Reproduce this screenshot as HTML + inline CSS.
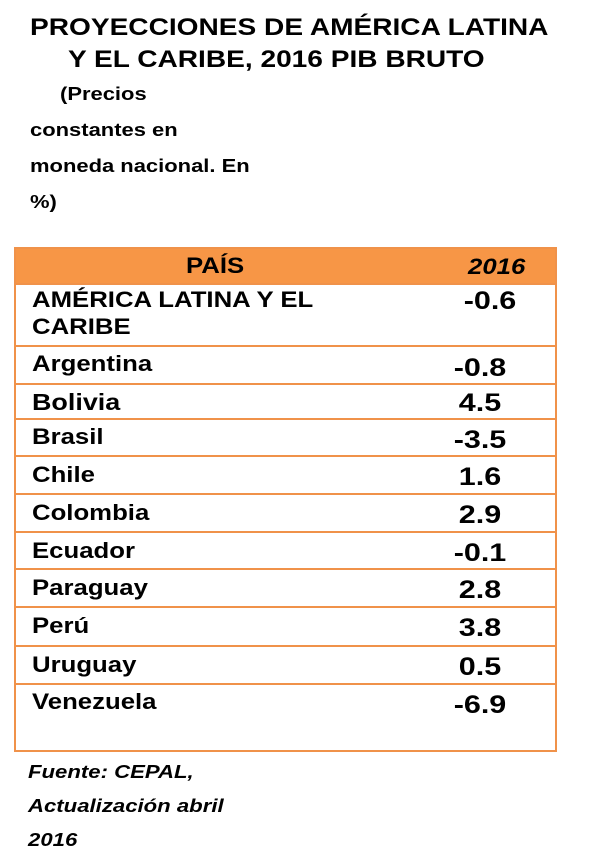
<!DOCTYPE html>
<html><head><meta charset="utf-8"><style>
body{margin:0;width:600px;height:864px;background:#fff;position:relative;font-family:"Liberation Sans",Arial,sans-serif;color:#000;overflow:hidden}
.a{position:absolute;white-space:nowrap;font-weight:bold;transform-origin:left top}
.t{font-size:24px;line-height:28px;transform:scaleX(1.17)}
.s{font-size:18px;transform:scaleX(1.22)}
.row{position:absolute;left:14px;width:539px;border:2px solid #f0924a;border-top:none;box-sizing:content-box}
.n{position:absolute;left:16px;font-size:22px;font-weight:bold;white-space:nowrap;transform:scaleX(1.17);transform-origin:left top}
.v{position:absolute;left:414px;width:100px;text-align:center;font-size:25px;font-weight:bold;transform:scaleX(1.22)}
.f{font-style:italic;font-size:18px;transform:scaleX(1.23)}
</style></head><body>
<div class="a t" style="left:30px;top:14px">PROYECCIONES DE AMÉRICA LATINA</div>
<div class="a t" style="left:68px;top:46px">Y EL CARIBE, 2016 PIB BRUTO</div>
<div class="a s" style="left:60px;top:84px">(Precios</div>
<div class="a s" style="left:30px;top:120px">constantes en</div>
<div class="a s" style="left:30px;top:156px">moneda nacional. En</div>
<div class="a s" style="left:30px;top:192px">%)</div>

<div class="row" style="top:247px;height:34px;background:#f79646;border-top:2px solid #f0924a">
<div class="n" style="left:170px;top:4px">PAÍS</div>
<div class="n" style="left:452px;top:5px;font-style:italic">2016</div></div>
<div class="row" style="top:283px;height:62px">
<div class="n" style="top:3px;line-height:27px">AMÉRICA LATINA Y EL<br>CARIBE</div><div class="v" style="top:4px;left:424px">-0.6</div></div>
<div class="row" style="top:347px;height:36px"><div class="n" style="top:4px">Argentina</div><div class="v" style="top:7px">-0.8</div></div>
<div class="row" style="top:385px;height:33px"><div class="n" style="top:4px;font-size:23px">Bolivia</div><div class="v" style="top:4px">4.5</div></div>
<div class="row" style="top:420px;height:35px"><div class="n" style="top:4px">Brasil</div><div class="v" style="top:6px">-3.5</div></div>
<div class="row" style="top:457px;height:36px"><div class="n" style="top:5px">Chile</div><div class="v" style="top:6px">1.6</div></div>
<div class="row" style="top:495px;height:36px"><div class="n" style="top:5px">Colombia</div><div class="v" style="top:6px">2.9</div></div>
<div class="row" style="top:533px;height:35px"><div class="n" style="top:5px">Ecuador</div><div class="v" style="top:6px">-0.1</div></div>
<div class="row" style="top:570px;height:36px"><div class="n" style="top:5px">Paraguay</div><div class="v" style="top:6px">2.8</div></div>
<div class="row" style="top:608px;height:37px"><div class="n" style="top:5px">Perú</div><div class="v" style="top:6px">3.8</div></div>
<div class="row" style="top:647px;height:36px"><div class="n" style="top:5px">Uruguay</div><div class="v" style="top:6px">0.5</div></div>
<div class="row" style="top:685px;height:65px"><div class="n" style="top:4px">Venezuela</div><div class="v" style="top:6px">-6.9</div></div>

<div class="a f" style="left:28px;top:762px">Fuente: CEPAL,</div>
<div class="a f" style="left:28px;top:796px">Actualización abril</div>
<div class="a f" style="left:28px;top:830px">2016</div>
</body></html>
